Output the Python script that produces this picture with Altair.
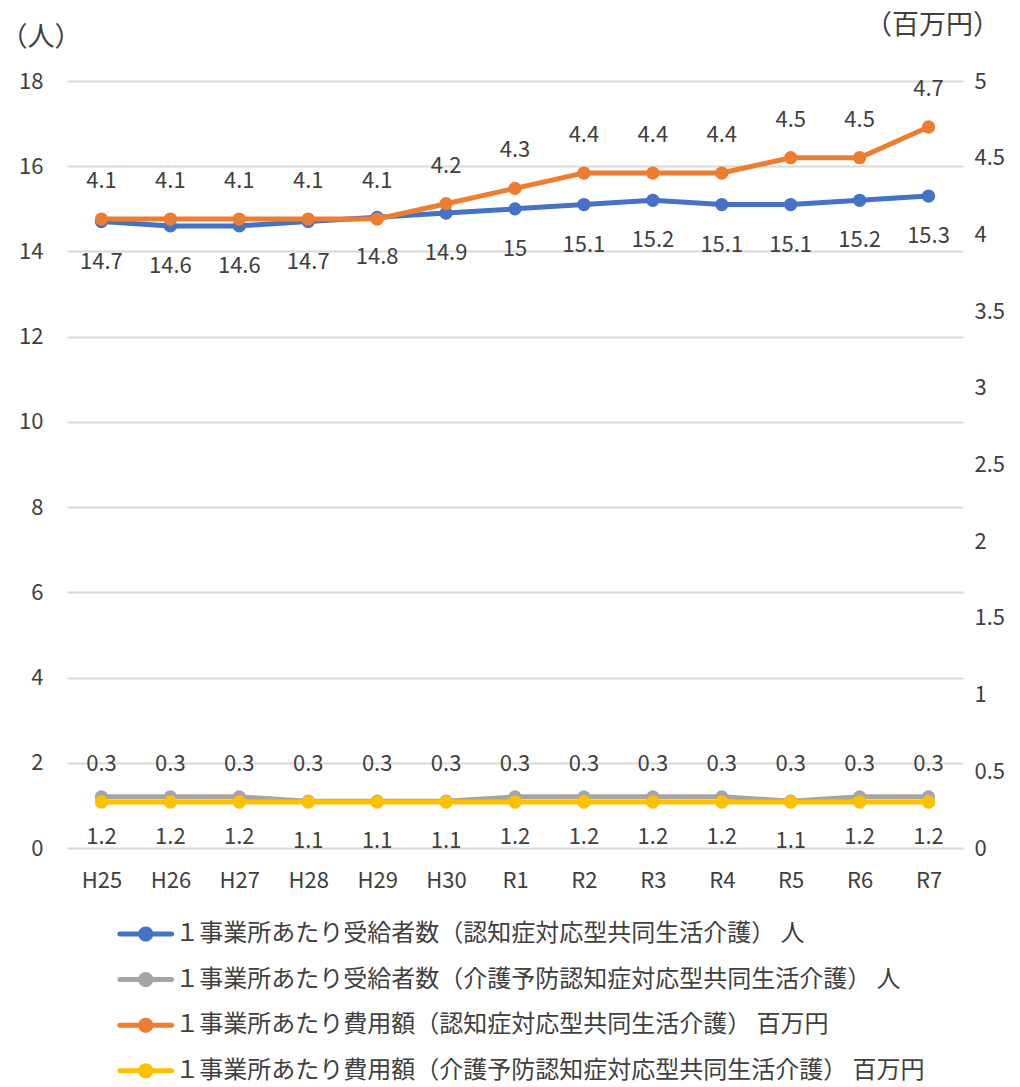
import altair as alt
import pandas as pd

# Fiscal years (Heisei / Reiwa)
years = ["H25", "H26", "H27", "H28", "H29", "H30", "R1", "R2", "R3", "R4", "R5", "R6", "R7"]

# Recipients per facility (persons) - left axis
users_care = [14.7, 14.6, 14.6, 14.7, 14.8, 14.9, 15, 15.1, 15.2, 15.1, 15.1, 15.2, 15.3]
users_prev = [1.2, 1.2, 1.2, 1.1, 1.1, 1.1, 1.2, 1.2, 1.2, 1.2, 1.1, 1.2, 1.2]

# Cost per facility (million yen) - right axis
cost_care = [4.1, 4.1, 4.1, 4.1, 4.1, 4.2, 4.3, 4.4, 4.4, 4.4, 4.5, 4.5, 4.7]
cost_prev = [0.3, 0.3, 0.3, 0.3, 0.3, 0.3, 0.3, 0.3, 0.3, 0.3, 0.3, 0.3, 0.3]

series_names = [
    "１事業所あたり受給者数（認知症対応型共同生活介護） 人",
    "１事業所あたり受給者数（介護予防認知症対応型共同生活介護） 人",
    "１事業所あたり費用額（認知症対応型共同生活介護） 百万円",
    "１事業所あたり費用額（介護予防認知症対応型共同生活介護） 百万円",
]
series_colors = ["#4472C4", "#A5A5A5", "#ED7D31", "#FFC000"]

left_ticks = [0, 2, 4, 6, 8, 10, 12, 14, 16, 18]
right_ticks = [0, 0.5, 1, 1.5, 2, 2.5, 3, 3.5, 4, 4.5, 5]

TEXT = "#404040"
FONT = "Noto Sans CJK JP"
NUM_SIZE = 22


def frame(names, colors, columns):
    rows = []
    for name, col, vals in zip(names, colors, columns):
        for yr, v in zip(years, vals):
            rows.append({"year": yr, "series": name, "hex": col, "value": v})
    return pd.DataFrame(rows)


left_df = frame(series_names[:2], series_colors[:2], [users_care, users_prev])
right_df = frame(series_names[2:], series_colors[2:], [cost_care, cost_prev])

# legend glyph: a round-capped line segment with a dot in the middle
LEGEND_PATH = (
    "M-1.82,-0.175L1.82,-0.175"
    "C1.917,-0.175 1.995,-0.097 1.995,0C1.995,0.097 1.917,0.175 1.82,0.175"
    "L-1.82,0.175"
    "C-1.917,0.175 -1.995,0.097 -1.995,0C-1.995,-0.097 -1.917,-0.175 -1.82,-0.175Z"
    "M0.53,0C0.53,0.293 0.293,0.53 0,0.53C-0.293,0.53 -0.53,0.293 -0.53,0"
    "C-0.53,-0.293 -0.293,-0.53 0,-0.53C0.293,-0.53 0.53,-0.293 0.53,0Z"
)

color_scale = alt.Scale(domain=series_names, range=series_colors)

legend = alt.Legend(
    orient="none",
    legendX=50,
    legendY=838.5,
    direction="vertical",
    title=None,
    symbolType=LEGEND_PATH,
    symbolSize=812,
    symbolStrokeWidth=0,
    symbolOffset=14.25,
    symbolOpacity=1,
    labelOffset=15,
    labelFontSize=24,
    labelColor=TEXT,
    labelFont=FONT,
    labelLimit=1000,
    rowPadding=18.6,
    padding=0,
)

x_enc = alt.X(
    "year:N",
    sort=years,
    scale=alt.Scale(type="point", padding=0.5),
    axis=alt.Axis(
        title=None,
        labelAngle=0,
        labelFontSize=NUM_SIZE,
        labelColor=TEXT,
        labelPadding=22,
        ticks=False,
        domain=False,
        grid=False,
    ),
)

left_axis = alt.Axis(
    values=left_ticks,
    title="（人）",
    titleAngle=0,
    titleX=-67,
    titleY=-44,
    titleAlign="left",
    titleBaseline="middle",
    titleFontSize=27,
    titleFontWeight="normal",
    titleColor=TEXT,
    labelFontSize=NUM_SIZE,
    labelColor=TEXT,
    labelPadding=24,
    ticks=False,
    domain=False,
    grid=True,
    gridColor="#D9D9D9",
    gridWidth=1.8,
)

right_axis = alt.Axis(
    orient="right",
    values=right_ticks,
    format="~g",
    title="（百万円）",
    titleAngle=0,
    titleX=-31,
    titleY=-56,
    titleAlign="center",
    titleBaseline="middle",
    titleFontSize=27,
    titleFontWeight="normal",
    titleColor=TEXT,
    labelFontSize=NUM_SIZE,
    labelColor=TEXT,
    labelPadding=11,
    ticks=False,
    domain=False,
    grid=False,
)


def panel(df, y_domain, axis, dy):
    base = alt.Chart(df).encode(
        x=x_enc,
        y=alt.Y("value:Q", scale=alt.Scale(domain=y_domain, nice=False), axis=axis),
    )
    # line colour taken straight from the data so only the points feed the legend
    lines = base.mark_line(strokeWidth=5).encode(
        stroke=alt.Stroke("hex:N", scale=None),
        detail="series:N",
    )
    points = base.mark_point(filled=True, size=177, opacity=1, strokeWidth=0).encode(
        color=alt.Color("series:N", scale=color_scale, legend=legend)
    )
    labels = base.mark_text(dy=dy, fontSize=NUM_SIZE, color=TEXT, baseline="middle").encode(
        text=alt.Text("value:Q", format="~g"),
        detail="series:N",
    )
    return alt.layer(lines, points, labels)


left = panel(left_df, [0, 18], left_axis, 40)
right = panel(right_df, [0, 5], right_axis, -38)

chart = (
    alt.layer(left, right)
    .resolve_scale(y="independent")
    .properties(
        width=896,
        height=767,
        padding={"left": 67, "top": 81, "right": 57, "bottom": 239},
        autosize=alt.AutoSizeParams(type="none"),
    )
    .configure(font=FONT)
    .configure_view(stroke=None)
)

chart.save("out.html", embed_options={"renderer": "svg", "actions": False})
